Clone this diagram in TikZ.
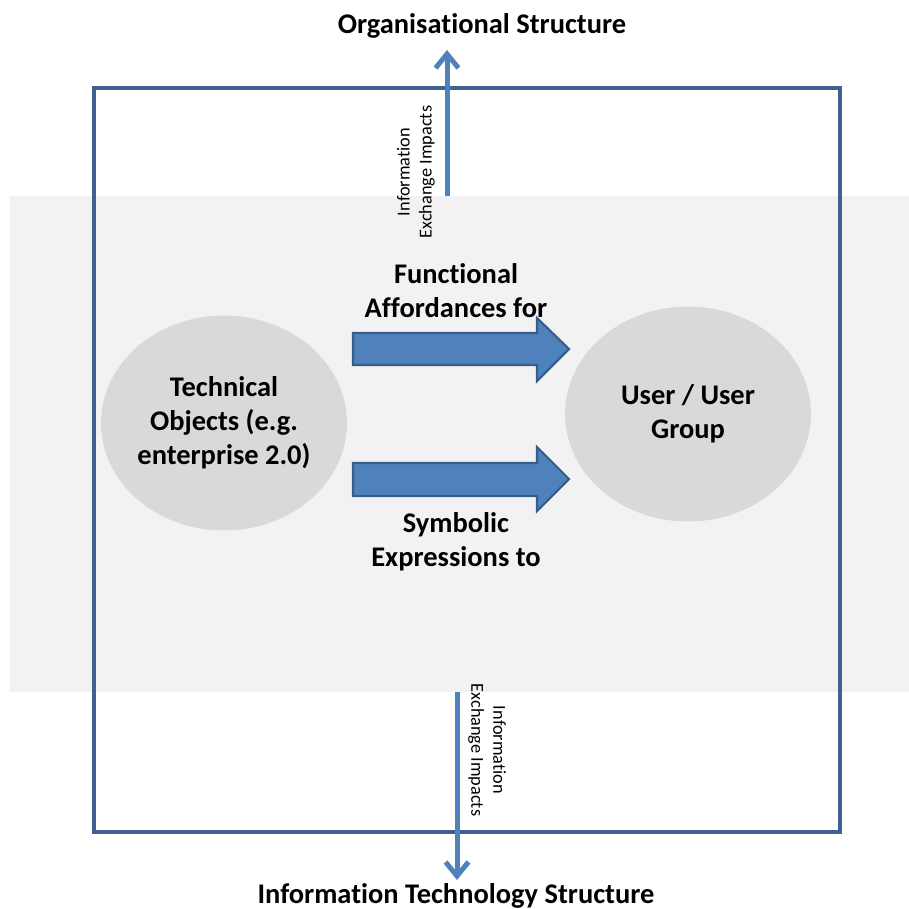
\documentclass[tikz,border=0pt]{standalone}
\usepackage{fontspec}
\setmainfont[Ligatures=NoCommon]{Carlito}
\usetikzlibrary{arrows.meta,shapes.geometric}
\definecolor{frameblue}{HTML}{3F6090}
\definecolor{arrowblue}{HTML}{4F81BD}
\definecolor{arrowedge}{HTML}{385D8A}
\definecolor{bandgray}{HTML}{F2F2F2}
\definecolor{blobgray}{HTML}{D9D9D9}
\tikzset{
  blob/.style={ellipse, fill=blobgray, minimum width=4.92cm, minimum height=4.3cm, inner sep=0pt, align=center, font=\fontsize{16.2}{19.3}\selectfont\bfseries},
  biglabel/.style={align=center, font=\fontsize{16.2}{19.3}\selectfont\bfseries},
  sidelabel/.style={align=center, font=\fontsize{10.4}{12.5}\selectfont},
  impact/.style={arrowblue, line width=2.85pt, -{Straight Barb[length=8pt,width=13pt]}},
  blockarrow/.style={fill=arrowblue, draw=arrowedge, line width=1.2pt}
}
\begin{document}
\begin{tikzpicture}[x=0.02cm, y=-0.02cm]
	\useasboundingbox (0,0) rectangle (909,909);
	% background band and frame
	\fill[bandgray] (10,196) rectangle (909,692);
	\draw[frameblue, line width=2.6pt] (94,88) rectangle (840,832);
	% the two objects
	\node[blob] (tech) at (224,423) {Technical\\Objects (e.g.\\enterprise 2.0)};
	\node[blob] (user) at (688,414) {User / User\\Group};
	% block arrows
	\filldraw[blockarrow] (353,333) -- (537,333) -- (537,318) -- (569,349) -- (537,381) -- (537,365) -- (353,365) -- cycle;
	\filldraw[blockarrow] (353,463) -- (537,463) -- (537,447) -- (569,479) -- (537,511) -- (537,496) -- (353,496) -- cycle;
	\node[biglabel] (func) at (456,291) {Functional\\Affordances for};
	\node[biglabel] (symb) at (456,542) {Symbolic\\Expressions to};
	% structures
	\node[biglabel] (org) at (482,26) {Organisational Structure};
	\node[biglabel] (its) at (456,896) {Information Technology Structure};
	\coordinate (upfoot) at (447,196);
	\coordinate (uptip) at (447,50);
	\coordinate (downfoot) at (457,692);
	\coordinate (downtip) at (457,880);
	\draw[impact] (upfoot) -- (uptip);
	\draw[impact] (downfoot) -- (downtip);
	\node[sidelabel, rotate=90] (upinfo) at (416,172) {Information\\Exchange Impacts};
	\node[sidelabel, rotate=-90] (downinfo) at (487,750) {Information\\Exchange Impacts};
\end{tikzpicture}
\end{document}
